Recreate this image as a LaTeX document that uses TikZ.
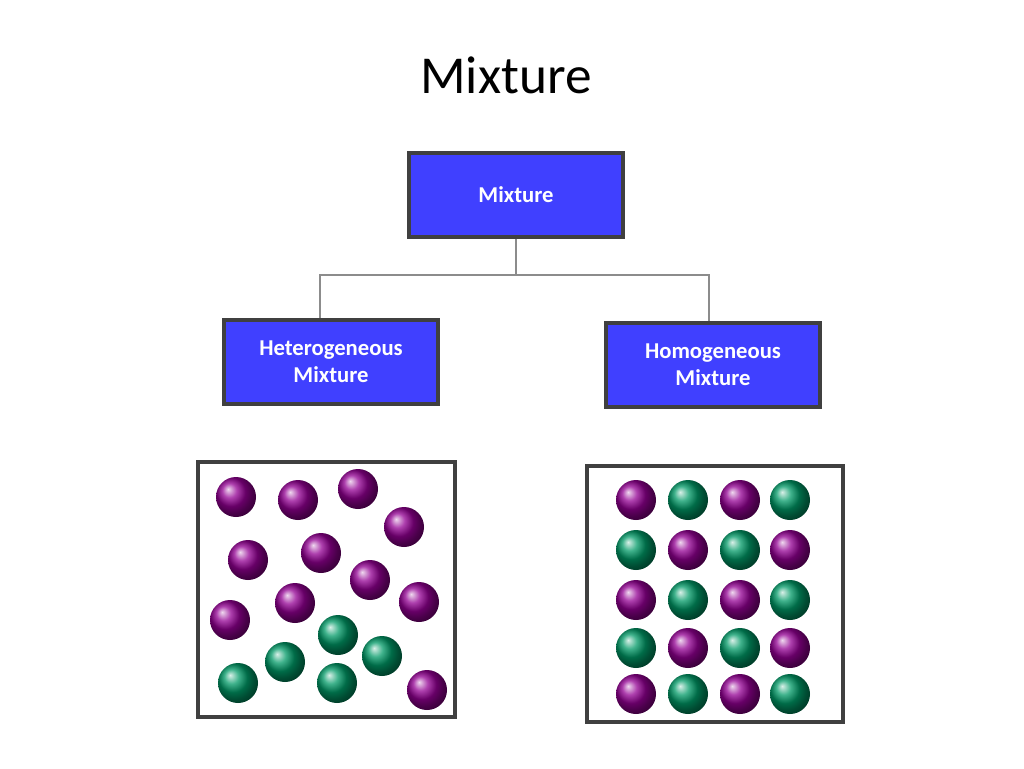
\documentclass[tikz,border=0pt]{standalone}
\usepackage{fontspec}
\setmainfont{Carlito}
\begin{document}
\begin{tikzpicture}[x=0.75pt,y=-0.75pt,
 bluebox/.style={draw=black!75,line width=3pt,fill=blue!75!white,text=white,font=\bfseries\fontsize{17}{20}\selectfont,align=center,minimum width=160pt,minimum height=63pt},
 frame/.style={draw=black!75,line width=3.5pt},
 conn/.style={draw=black!45,line width=2pt},
 pb/.style={ball color=violet!85!magenta},
 gb/.style={ball color=teal!80!green}]
\useasboundingbox (0,0) rectangle (1024,768);
\node (title) at (506,75) {\fontsize{40}{48}\selectfont Mixture};
\node[bluebox] (mix) at (516,194.5) {Mixture};
\node[bluebox] (het) at (331,361.5) {Heterogeneous\\Mixture};
\node[bluebox] (hom) at (713,365) {Homogeneous\\Mixture};
\coordinate (j) at (516,275);
\draw[conn] (mix.south) -- (j);
\draw[conn] (het.north -| 320,0) |- (j) -| (hom.north -| 709,0);
\draw[frame] (198,462) rectangle (455,717);
\draw[frame] (587,466) rectangle (843,722);
\foreach \x/\y in {236/497,298/500,358/489,404/527,248/560,321/553,370/580,419/602,230/620,295/603,427/690}
  \shade[pb] (\x,\y) circle (15pt);
\foreach \x/\y in {338/635,285/662,382/656,238/683,337/683}
  \shade[gb] (\x,\y) circle (15pt);
\foreach \y [count=\r] in {500,550,600,648,694}
  \foreach \x [count=\c] in {636,688,740,790}{
    \pgfmathparse{int(mod(\r+\c,2))}
    \ifnum\pgfmathresult=0 \shade[pb] (\x,\y) circle (15pt);
    \else \shade[gb] (\x,\y) circle (15pt); \fi}
\end{tikzpicture}
\end{document}
